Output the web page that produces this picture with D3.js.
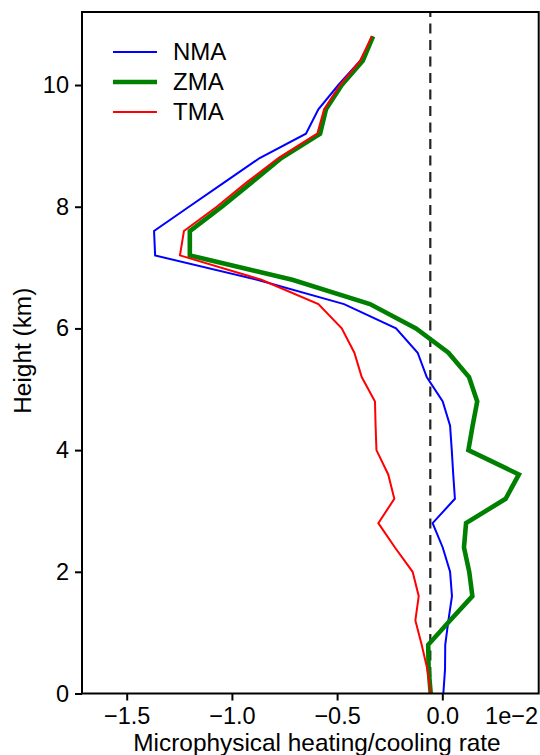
<!DOCTYPE html>
<html>
<head>
<meta charset="utf-8">
<script src="https://cdn.jsdelivr.net/npm/d3@7"></script>
<style>
  body { margin: 0; background: #fff; }
  svg { display: block; font-family: "Liberation Sans", Arial, sans-serif; }
  .axis text { font-size: 23.5px; fill: #000; }
  .axis line, .axis path { stroke: #000; stroke-width: 2px; }
  .axis-title { font-size: 24.4px; fill: #000; }
  .legend-label { font-size: 24px; fill: #000; }
</style>
</head>
<body>
<svg id="chart"></svg>
<script>
// Heights (km) of the profile levels
const heights = [0, 0.4, 0.8, 1.2, 1.6, 2.0, 2.4, 2.8, 3.2, 3.6, 4.0, 4.4, 4.8, 5.2,
  5.6, 6.0, 6.4, 6.8, 7.2, 7.6, 8.0, 8.4, 8.8, 9.2, 9.6, 10.0, 10.4, 10.8];

// Heating/cooling rates (x 1e-2), bottom to top
const nma = [0.005, 0.013, 0.014, 0.029, 0.046, 0.037, 0.002, -0.046, 0.060, 0.052,
  0.045, 0.037, 0.002, -0.074, -0.117, -0.220, -0.467, -0.880, -1.365, -1.370,
  -1.204, -1.036, -0.868, -0.648, -0.589, -0.494, -0.390, -0.330];
const zma = [-0.055, -0.065, -0.067, 0.037, 0.143, 0.128, 0.103, 0.113, 0.301, 0.364,
  0.124, 0.144, 0.166, 0.127, 0.029, -0.125, -0.344, -0.713, -1.200, -1.200,
  -1.048, -0.906, -0.765, -0.581, -0.553, -0.478, -0.378, -0.329];
const tma = [-0.055, -0.071, -0.098, -0.128, -0.112, -0.141, -0.225, -0.304, -0.228, -0.257,
  -0.313, -0.317, -0.320, -0.383, -0.418, -0.478, -0.589, -0.860, -1.247, -1.228,
  -1.072, -0.930, -0.779, -0.594, -0.562, -0.486, -0.390, -0.335];

const seriesNames = ['NMA', 'ZMA', 'TMA'];
const seriesValues = [nma, zma, tma];
const seriesColors = ['#0000ff', '#008000', '#ff0000'];
const seriesWidths = [2, 4.6, 2];

const xTicks = [-1.5, -1.0, -0.5, 0.0];
const yTicks = [0, 2, 4, 6, 8, 10];
const refValue = -0.057;   // dashed reference line

const width = 540, height = 755;
const margin = {top: 12, right: 1.3, bottom: 61.5, left: 82};
const innerW = width - margin.left - margin.right;
const innerH = height - margin.top - margin.bottom;

const svg = d3.select('#chart')
  .attr('width', width)
  .attr('height', height);

const chart = svg.append('g')
  .attr('transform', `translate(${margin.left},${margin.top})`);

const xScale = d3.scaleLinear()
  .domain([-1.7125, 0.4582])
  .range([0, innerW]);

const yScale = d3.scaleLinear()
  .domain([0, 11.2])
  .range([innerH, 0]);

// Axes
const xAxis = d3.axisBottom(xScale)
  .tickValues(xTicks)
  .tickSize(7)
  .tickPadding(7)
  .tickFormat(d3.format('.1f'));

const yAxis = d3.axisLeft(yScale)
  .tickValues(yTicks)
  .tickSize(7)
  .tickPadding(6)
  .tickFormat(d3.format('d'));

chart.append('g')
  .attr('class', 'axis x-axis')
  .attr('transform', `translate(0,${innerH})`)
  .call(xAxis)
  .call(g => g.select('.domain').remove())
  .call(g => g.selectAll('text').attr('dy', '0.71em'));

chart.append('g')
  .attr('class', 'axis y-axis')
  .call(yAxis)
  .call(g => g.select('.domain').remove());

// Reference line (drawn bottom to top)
chart.append('line')
  .attr('x1', xScale(refValue))
  .attr('x2', xScale(refValue))
  .attr('y1', innerH)
  .attr('y2', 0)
  .attr('stroke', '#222')
  .attr('stroke-width', 2.2)
  .attr('stroke-dasharray', '10,6.5');

// Profiles
const line = d3.line()
  .x(d => xScale(d[0]))
  .y(d => yScale(d[1]));

seriesValues.forEach((vals, i) => {
  chart.append('path')
    .datum(vals.map((v, j) => [v, heights[j]]))
    .attr('fill', 'none')
    .attr('stroke', seriesColors[i])
    .attr('stroke-width', seriesWidths[i])
    .attr('stroke-linejoin', 'miter')
    .attr('d', line);
});

// Frame
chart.append('rect')
  .attr('width', innerW)
  .attr('height', innerH)
  .attr('fill', 'none')
  .attr('stroke', '#000')
  .attr('stroke-width', 2);

// Axis titles
svg.append('text')
  .attr('class', 'axis-title')
  .attr('x', 317)
  .attr('y', 751)
  .style('text-anchor', 'middle')
  .text('Microphysical heating/cooling rate');

svg.append('text')
  .attr('class', 'axis-title')
  .attr('transform', `translate(31,${margin.top + innerH / 2 - 2}) rotate(-90)`)
  .style('text-anchor', 'middle')
  .text('Height (km)');

// Offset text
svg.append('text')
  .attr('class', 'axis-title')
  .attr('x', width - 2)
  .attr('y', 724)
  .style('font-size', '23.5px')
  .style('text-anchor', 'end')
  .text('1e\u22122');

// Legend
const legend = chart.append('g')
  .attr('transform', 'translate(31,40)');

seriesNames.forEach((name, i) => {
  const row = legend.append('g')
    .attr('transform', `translate(0,${i * 30})`);
  row.append('line')
    .attr('x1', 0)
    .attr('x2', 44)
    .attr('stroke', seriesColors[i])
    .attr('stroke-width', seriesWidths[i]);
  row.append('text')
    .attr('class', 'legend-label')
    .attr('x', 60)
    .attr('dy', '0.35em')
    .text(name);
});
</script>
</body>
</html>
